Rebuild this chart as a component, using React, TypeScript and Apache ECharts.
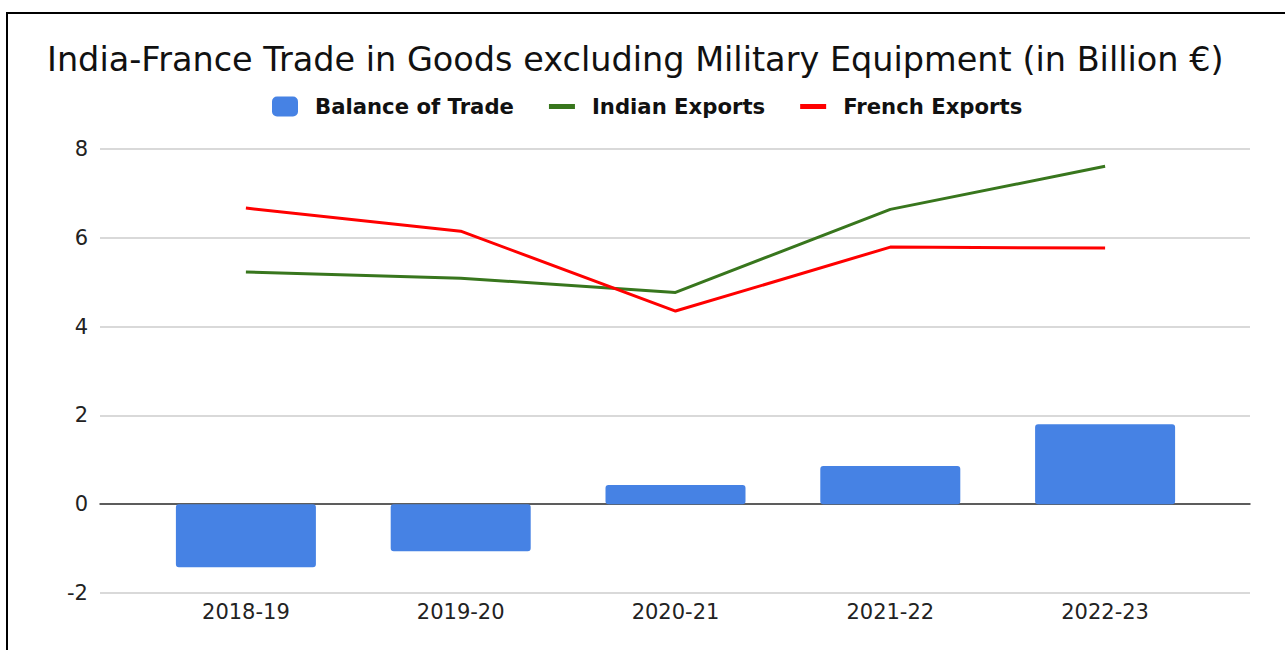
import React, { useEffect, useRef } from "react";
import * as echarts from "echarts";

const categories = ["2018-19", "2019-20", "2020-21", "2021-22", "2022-23"];
const balanceOfTrade = [-1.42, -1.06, 0.43, 0.86, 1.8];
const indianExports = [5.23, 5.09, 4.77, 6.64, 7.61];
const frenchExports = [6.67, 6.15, 4.35, 5.79, 5.77];
const yTicks = { min: -2, max: 8, interval: 2 };

const FONT = "'DejaVu Sans', sans-serif";
const LINE_ICON = "path://M0,0H26V5H0Z";

export default function App() {
  const ref = useRef<HTMLDivElement>(null);
  useEffect(() => {
    if (!ref.current) return;
    const chart = echarts.init(ref.current, undefined, { renderer: "svg" });
    chart.setOption({
      animation: false,
      backgroundColor: "transparent",
      title: {
        text: "India-France Trade in Goods excluding Military Equipment (in Billion €)",
        left: 47,
        top: 42,
        padding: 0,
        textStyle: { fontFamily: FONT, fontSize: 33.5, fontWeight: "normal", color: "#111" },
      },
      legend: {
        left: 272,
        top: 96,
        padding: 0,
        itemWidth: 26,
        itemHeight: 20,
        itemGap: 35,
        textStyle: { fontFamily: FONT, fontSize: 21.2, fontWeight: "bold", color: "#111", padding: [0, 0, 0, 12] },
        data: [
          { name: "Balance of Trade", icon: "roundRect" },
          { name: "Indian Exports", icon: LINE_ICON, itemStyle: { color: "#38761d" } },
          { name: "French Exports", icon: LINE_ICON, itemStyle: { color: "#ff0000" } },
        ],
      },
      grid: [
        { left: 100, right: 35, top: 149, bottom: 57 },
        { left: 138.5, right: 72.5, top: 149, bottom: 57 },
      ],
      xAxis: [
        {
          type: "category",
          gridIndex: 0,
          data: categories,
          axisLine: { show: true, onZero: true, lineStyle: { color: "#333", width: 1.5 } },
          axisTick: { show: false },
          axisLabel: { show: false },
          splitLine: { show: false },
        },
        {
          type: "category",
          gridIndex: 1,
          data: categories,
          axisLine: { show: false },
          axisTick: { show: false },
          axisLabel: { fontFamily: FONT, fontSize: 21, color: "#222", margin: 8 },
        },
      ],
      yAxis: [
        {
          type: "value",
          gridIndex: 0,
          min: yTicks.min,
          max: yTicks.max,
          interval: yTicks.interval,
          axisLine: { show: false },
          axisTick: { show: false },
          axisLabel: { fontFamily: FONT, fontSize: 21, color: "#222", margin: 12 },
          splitLine: { lineStyle: { color: "#cccccc", width: 1.5 } },
        },
        {
          type: "value",
          gridIndex: 1,
          min: yTicks.min,
          max: yTicks.max,
          interval: yTicks.interval,
          show: false,
          splitLine: { show: false },
        },
      ],
      series: [
        {
          name: "Balance of Trade",
          type: "bar",
          xAxisIndex: 1,
          yAxisIndex: 1,
          data: balanceOfTrade,
          barWidth: 140,
          itemStyle: { color: "#4682e4", borderRadius: 3 },
        },
        {
          name: "Indian Exports",
          type: "line",
          xAxisIndex: 1,
          yAxisIndex: 1,
          data: indianExports,
          symbol: "none",
          lineStyle: { color: "#38761d", width: 3 },
          itemStyle: { color: "#38761d" },
        },
        {
          name: "French Exports",
          type: "line",
          xAxisIndex: 1,
          yAxisIndex: 1,
          data: frenchExports,
          symbol: "none",
          lineStyle: { color: "#ff0000", width: 3 },
          itemStyle: { color: "#ff0000" },
        },
      ],
    });
    return () => chart.dispose();
  }, []);

  return (
    <div style={{ position: "fixed", left: 0, top: 0, width: 1285, height: 650, overflow: "hidden", background: "#fff" }}>
      <div
        style={{
          position: "absolute",
          left: 6,
          top: 12,
          width: 1400,
          height: 800,
          border: "2px solid #000",
          boxSizing: "border-box",
        }}
      />
      <div ref={ref} style={{ position: "absolute", left: 0, top: 0, width: 1285, height: 650 }} />
    </div>
  );
}
